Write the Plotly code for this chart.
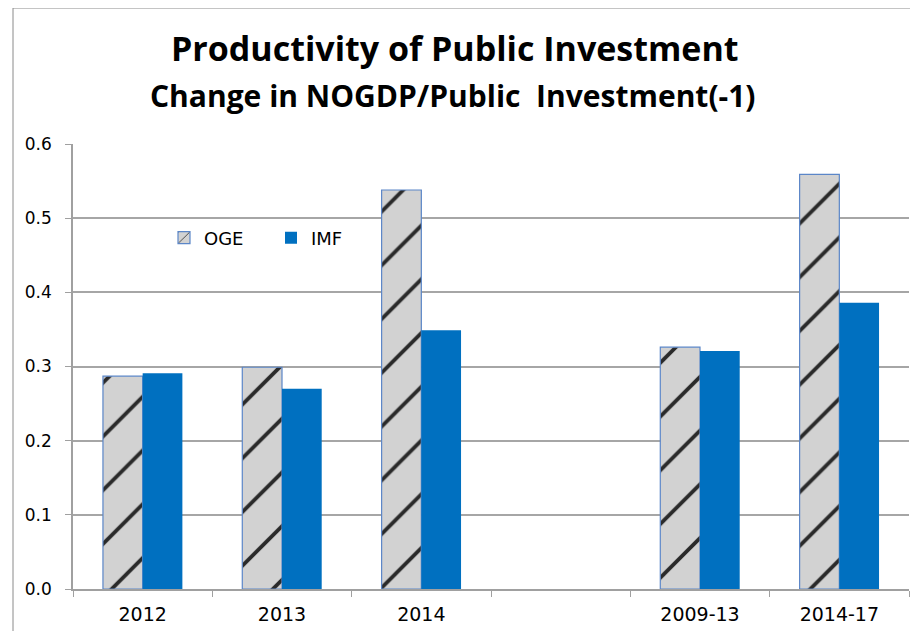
import plotly.graph_objects as go

categories = ["2012", "2013", "2014", " ", "2009-13", "2014-17"]
oge_values = [0.287, 0.299, 0.538, None, 0.326, 0.559]
imf_values = [0.291, 0.270, 0.349, None, 0.321, 0.386]
y_ticks = [0.0, 0.1, 0.2, 0.3, 0.4, 0.5, 0.6]

W, H = 918, 631
OFF = 8  # page body margin
SL, ST, pw, ph = 73, 144, 836, 445  # plot area in screen pixels
L, T = SL - OFF, ST - OFF
R, B = W - L - pw, H - T - ph

def px_x(sx):
    return (sx - SL) / pw

def px_y(sy):
    return (ST + ph - sy) / ph

fig = go.Figure()
fig.add_trace(go.Bar(
    x=categories, y=oge_values, name="OGE",
    marker=dict(
        color="#c4c4c4",
        line=dict(color="#5b86c8", width=1.2),
        pattern=dict(shape="/", fgcolor="#2a2a2a", bgcolor="#d2d2d2",
                     size=38, solidity=0.1, fillmode="replace"),
    ),
))
fig.add_trace(go.Bar(
    x=categories, y=imf_values, name="IMF",
    marker=dict(color="#0070C0", line=dict(color="#0070C0", width=0)),
))

fig.update_layout(
    width=W, height=H,
    margin=dict(l=L, r=R, t=T, b=B, pad=0, autoexpand=False),
    paper_bgcolor="white", plot_bgcolor="white",
    barmode="group", bargap=0.43, bargroupgap=0,
    showlegend=True,
    legend=dict(
        orientation="h", x=px_x(164), y=px_y(238),
        xanchor="left", yanchor="middle",
        font=dict(family="DejaVu Sans", size=18, color="#000"),
        bgcolor="rgba(0,0,0,0)", itemwidth=30,
        entrywidth=62, entrywidthmode="pixels",
        traceorder="normal",
    ),
    font=dict(family="DejaVu Sans", color="#000"),
    annotations=[
        dict(text="<b>Productivity of Public Investment</b>", xref="paper", yref="paper",
             x=px_x(455), y=px_y(48), xanchor="center", yanchor="middle",
             showarrow=False, font=dict(family="Open Sans", size=34, color="#000")),
        dict(text="<b>Change in NOGDP/Public  Investment(-1)</b>", xref="paper", yref="paper",
             x=px_x(453), y=px_y(95), xanchor="center", yanchor="middle",
             showarrow=False, font=dict(family="Open Sans", size=30, color="#000")),
    ],
    shapes=[
        dict(type="rect", xref="paper", yref="paper",
             x0=px_x(13), x1=px_x(940), y0=px_y(660), y1=px_y(8),
             line=dict(color="#8a8a8a", width=1), fillcolor="rgba(0,0,0,0)", layer="below"),
    ],
)

fig.update_xaxes(
    type="category", categoryorder="array", categoryarray=categories,
    range=[-0.5, 5.5], tickson="boundaries",
    ticks="outside", ticklen=6, tickcolor="#a0a0a0", tickwidth=1,
    showline=True, linecolor="#a0a0a0", linewidth=1.5,
    showgrid=False, tickfont=dict(family="DejaVu Sans", size=19, color="#000"),
    ticklabelstandoff=7,
)
fig.update_yaxes(
    range=[0, 0.6], tickvals=y_ticks, tickformat=".1f",
    ticks="outside", ticklen=6, tickcolor="#a0a0a0", tickwidth=1,
    showline=True, linecolor="#a0a0a0", linewidth=1.5,
    showgrid=True, gridcolor="#a6a6a6", gridwidth=1.5, zeroline=False,
    tickfont=dict(family="DejaVu Sans", size=17, color="#000"),
    ticklabelstandoff=10,
)

fig.write_html("out.html")
